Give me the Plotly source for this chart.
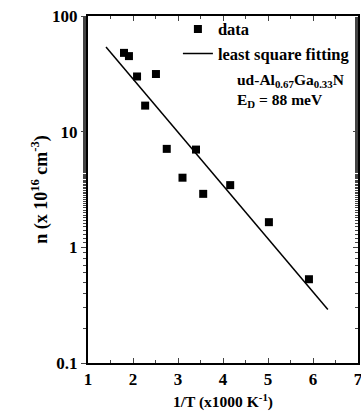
import plotly.graph_objects as go

inv_T = [1.8, 1.91, 2.09, 2.27, 2.51, 2.75, 3.1, 3.4, 3.56, 4.16, 5.02, 5.91]
n_data = [48, 45, 30, 16.8, 31.5, 7.1, 4.0, 7.0, 2.9, 3.45, 1.65, 0.53]
fit_x = [1.4, 6.33]
fit_y = [54, 0.29]
x_ticks = [1, 2, 3, 4, 5, 6, 7]
y_ticks = [0.1, 1, 10, 100]
y_labels = ["0.1", "1", "10", "100"]

FONT = "Liberation Serif"

fig = go.Figure()
fig.add_trace(go.Scatter(x=inv_T, y=n_data, mode="markers", name="data",
                         marker=dict(symbol="square", size=8, color="black")))
fig.add_trace(go.Scatter(x=fit_x, y=fit_y, mode="lines", name="least square fitting",
                         line=dict(color="black", width=1.5)))
# invisible trace carrying the right-side axis ticks
fig.add_trace(go.Scatter(x=fit_x, y=fit_y, mode="lines", yaxis="y2", showlegend=False,
                         line=dict(color="rgba(0,0,0,0)"), hoverinfo="skip"))

fig.update_layout(
    width=361, height=417,
    margin=dict(l=88, r=3, t=16, b=54, autoexpand=False),
    paper_bgcolor="white", plot_bgcolor="white",
    font=dict(family=FONT, size=17, color="black", weight="bold"),
    showlegend=True,
    legend=dict(x=0.333, y=1.012, xanchor="left", yanchor="top",
                bgcolor="rgba(0,0,0,0)", font=dict(size=16.5, family=FONT, weight="bold"),
                tracegroupgap=0, itemwidth=30),
    xaxis=dict(range=[1, 7], tickvals=x_ticks, ticks="inside", ticklen=5,
               showline=True, linecolor="black", linewidth=2, mirror="ticks",
               showgrid=False, zeroline=False, ticklabeloverflow="allow",
               tickfont=dict(size=17, family=FONT, weight="bold"),
               minor=dict(ticks="inside", ticklen=3, dtick=0.5),
               title=dict(text="1/T (x1000 K<sup>-1</sup>)", standoff=8,
                          font=dict(size=15.5, family=FONT, weight="bold"))),
    yaxis=dict(type="log", range=[-1, 2], tickvals=y_ticks, ticktext=y_labels,
               ticks="outside", ticklen=5, showline=True, linecolor="black", linewidth=2,
               showgrid=False, zeroline=False, ticklabeloverflow="allow",
               tickfont=dict(size=17, family=FONT, weight="bold"),
               minor=dict(ticks="outside", ticklen=3, showgrid=False),
               title=dict(text="n (x 10<sup>16</sup> cm<sup>-3</sup>)", standoff=0,
                          font=dict(size=18, family=FONT, weight="bold"))),
    yaxis2=dict(type="log", range=[-1, 2], overlaying="y", side="right",
                tickvals=y_ticks, showticklabels=False, ticks="inside", ticklen=5,
                showline=True, linecolor="black", linewidth=2, showgrid=False,
                minor=dict(ticks="inside", ticklen=3, showgrid=False)),
    annotations=[
        dict(x=0.545, y=0.848, xref="paper", yref="paper", xanchor="left", yanchor="top",
             align="left",
             text="ud-Al<sub>0.67</sub>Ga<sub>0.33</sub>N<br>E<sub>D</sub> = 88 meV",
             showarrow=False,
             font=dict(size=15.5, family=FONT, weight="bold")),
    ],
)

fig.write_html("out.html")
